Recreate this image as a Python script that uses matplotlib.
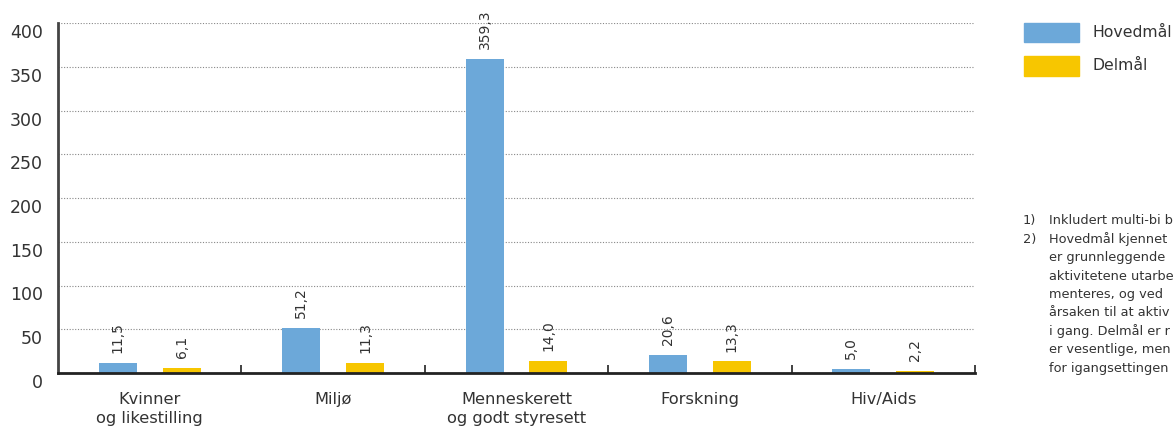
import matplotlib
matplotlib.use("Agg")
import matplotlib.pyplot as plt
import matplotlib.transforms as mtransforms
from matplotlib.patches import Rectangle
import numpy as np

plt.rcParams['font.family'] = ['DejaVu Sans']

categories = ["Kvinner\nog likestilling", "Miljø", "Menneskerett\nog godt styresett", "Forskning", "Hiv/Aids"]
hovedmal = [11.5, 51.2, 359.3, 20.6, 5.0]
delmal = [6.1, 11.3, 14.0, 13.3, 2.2]
series_names = ["Hovedmål", "Delmål"]
y_ticks = [0, 50, 100, 150, 200, 250, 300, 350, 400]
note_numbers = ["1)", "2)"]
note_lines = [
    "Inkludert multi-bi b",
    "Hovedmål kjennet",
    "er grunnleggende",
    "aktivitetene utarbe",
    "menteres, og ved",
    "årsaken til at aktiv",
    "i gang. Delmål er r",
    "er vesentlige, men",
    "for igangsettingen",
]

BLUE = "#6CA8D9"
YELLOW = "#F7C600"
TXT = "#333333"

fig = plt.figure(figsize=(11.75, 4.30), dpi=100)
ax = fig.add_axes([58/1175, 1-373/430, (975-58)/1175, (373-23)/430])

x = np.arange(len(categories))
off = 0.174
w = 0.207
b1 = ax.bar(x - off, hovedmal, w, color=BLUE, zorder=3)
b2 = ax.bar(x + off, delmal, w, color=YELLOW, zorder=3)

def fmt(v):
    return f"{v:.1f}".replace(".", ",")

for bars, vals in ((b1, hovedmal), (b2, delmal)):
    for r, v in zip(bars, vals):
        ax.annotate(fmt(v), (r.get_x() + r.get_width()/2, r.get_height()),
                    xytext=(0, 7), textcoords="offset points",
                    rotation=90, ha="center", va="bottom", fontsize=10, color=TXT)

ax.set_xlim(-0.5, len(categories) - 0.5)
ax.set_ylim(0, 400)
ax.set_yticks(y_ticks)
ax.set_yticklabels([str(t) for t in y_ticks], fontsize=12.5, color=TXT)
ax.tick_params(axis="y", length=0, pad=11)
shift = mtransforms.ScaledTranslation(0, -8/100, fig.dpi_scale_trans)
for lab in ax.get_yticklabels():
    lab.set_transform(lab.get_transform() + shift)

ax.set_xticks(x)
ax.set_xticklabels(categories, fontsize=11.7, color=TXT)
for t in ax.get_xticklabels():
    t.set_linespacing(1.3)
ax.tick_params(axis="x", which="major", length=0, pad=14)
ax.set_xticks(np.arange(len(categories)) + 0.5, minor=True)
ax.tick_params(axis="x", which="minor", direction="in", length=6, width=1.3, color=TXT)

ax.grid(axis="y", linestyle=(0, (1, 1.5)), color="#888888", linewidth=0.8, zorder=0)
for s in ("top", "right"):
    ax.spines[s].set_visible(False)
ax.spines["left"].set_color("#444444")
ax.spines["left"].set_linewidth(2)
ax.spines["bottom"].set_color("#222222")
ax.spines["bottom"].set_linewidth(2)
ax.spines["bottom"].set_zorder(4)

# legend
for i, (name, col) in enumerate(zip(series_names, [BLUE, YELLOW])):
    y0 = 23 + i * 33.5
    fig.add_artist(Rectangle((1024/1175, 1-(y0+19)/430), 55/1175, 19/430,
                             transform=fig.transFigure, color=col))
    fig.text(1093/1175, 1-(y0+9.5)/430, name, fontsize=11.3, color=TXT,
             va="center", ha="left")

# footnotes
ls = 18.4
top = 221
fig.text(1023/1175, 1-top/430, note_numbers[0], fontsize=9.3, color=TXT, va="center")
fig.text(1023/1175, 1-(top+ls)/430, note_numbers[1], fontsize=9.3, color=TXT, va="center")
for i, line in enumerate(note_lines):
    fig.text(1049/1175, 1-(top+i*ls)/430, line, fontsize=9.3, color=TXT, va="center")

fig.savefig("out.png", dpi=100)
